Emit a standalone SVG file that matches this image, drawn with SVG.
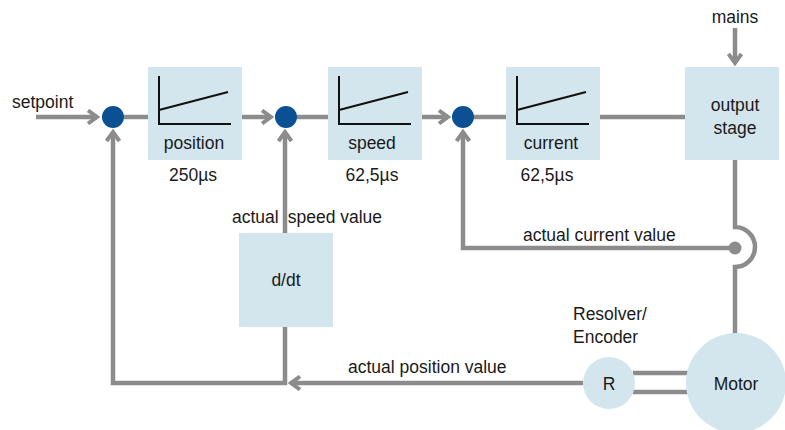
<svg xmlns="http://www.w3.org/2000/svg" width="785" height="430" viewBox="0 0 785 430">
<style>
.ln{fill:none;stroke:#8c8c8c;stroke-width:4.5}
.box{fill:#d3e5ed}
.ax{fill:none;stroke:#111;stroke-width:2}
.sum{fill:#0a5093}
.t{font-family:"Liberation Sans",Arial,sans-serif;font-size:17.5px;fill:#1a1a1a}
.c{text-anchor:middle}
</style>
<defs>
<marker id="ah" viewBox="0 0 14 16" refX="11" refY="8" markerWidth="14" markerHeight="16" orient="auto" markerUnits="userSpaceOnUse">
<path d="M2,1.5 L11,8 L2,14.5" fill="none" stroke="#8c8c8c" stroke-width="4"/>
</marker>
</defs>
<rect width="785" height="430" fill="#fff"/>
<g id="connectors">
<path class="ln" d="M36,117 H97" marker-end="url(#ah)"/>
<path class="ln" d="M124,117 H148"/>
<path class="ln" d="M242,117 H271" marker-end="url(#ah)"/>
<path class="ln" d="M297,117 H328"/>
<path class="ln" d="M422,117 H448" marker-end="url(#ah)"/>
<path class="ln" d="M474,117 H506"/>
<path class="ln" d="M600,117 H685"/>
<path class="ln" d="M735,28 V63" marker-end="url(#ah)"/>
<path class="ln" d="M735,160 V227 A20,20 0 0 1 735,267 V334"/>
<path class="ln" d="M735,248 H463 V132" marker-end="url(#ah)"/>
<circle cx="735" cy="248" r="6.5" fill="#8c8c8c"/>
<path class="ln" d="M285,233 V132" marker-end="url(#ah)"/>
<path class="ln" d="M285,327 V383 H113 V132" marker-end="url(#ah)"/>
<path class="ln" d="M583,383 H291" marker-end="url(#ah)"/>
<path class="ln" d="M633,373 H690 M633,392 H690"/>
</g>
<g id="setpoint"><text class="t" x="12" y="108">setpoint</text></g>
<g id="sum1"><circle class="sum" cx="113" cy="117" r="11"/></g>
<g id="sum2"><circle class="sum" cx="286" cy="117" r="11"/></g>
<g id="sum3"><circle class="sum" cx="463" cy="117" r="11"/></g>
<g id="position">
<rect class="box" x="148" y="67" width="94" height="93"/>
<path class="ax" d="M159,76 V124 H231 M159,110 L228,92"/>
<text class="t c" x="194" y="149">position</text>
<text class="t c" x="193" y="181">250µs</text>
</g>
<g id="speed">
<rect class="box" x="328" y="67" width="94" height="93"/>
<path class="ax" d="M339,76 V124 H411 M339,110 L408,92"/>
<text class="t c" x="372" y="149">speed</text>
<text class="t c" x="372" y="181">62,5µs</text>
</g>
<g id="current">
<rect class="box" x="506" y="67" width="94" height="93"/>
<path class="ax" d="M517,76 V124 H589 M517,110 L586,92"/>
<text class="t c" x="551" y="149">current</text>
<text class="t c" x="547" y="181">62,5µs</text>
</g>
<g id="output-stage">
<rect class="box" x="685" y="67" width="94" height="93"/>
<text class="t c" x="735" y="111">output</text>
<text class="t c" x="735" y="134">stage</text>
</g>
<g id="mains"><text class="t c" x="735" y="23">mains</text></g>
<g id="ddt">
<rect class="box" x="239" y="233" width="94" height="94"/>
<text class="t c" x="286" y="286">d/dt</text>
</g>
<g id="labels">
<text class="t" x="232" y="223">actual<tspan dx="9">speed value</tspan></text>
<text class="t" x="523" y="241">actual current value</text>
<text class="t" x="348" y="373">actual position value</text>
<text class="t" x="573" y="320">Resolver/</text>
<text class="t" x="573" y="343">Encoder</text>
</g>
<g id="resolver">
<circle class="box" cx="609" cy="383" r="26"/>
<text class="t c" x="609" y="390">R</text>
</g>
<g id="motor">
<circle class="box" cx="736" cy="383" r="50"/>
<text class="t c" x="736" y="390">Motor</text>
</g>
</svg>
